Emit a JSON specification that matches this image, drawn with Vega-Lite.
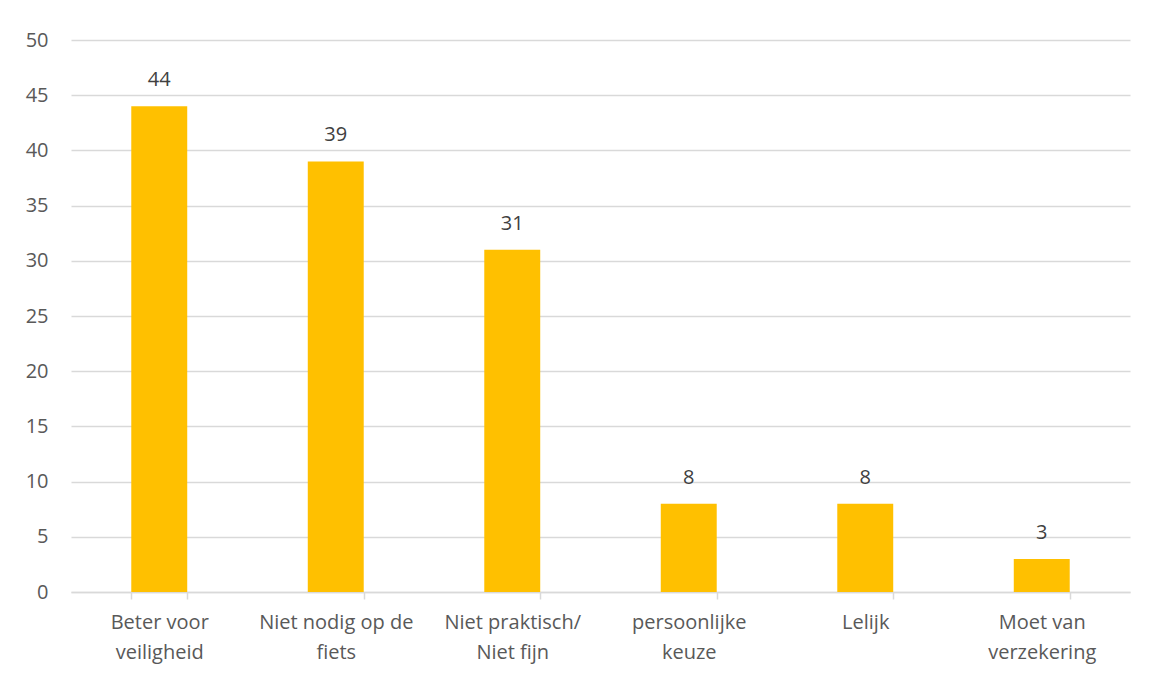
{
  "$schema": "https://vega.github.io/schema/vega-lite/v6.json",
  "autosize": {"type": "none"},
  "width": 1059,
  "height": 552,
  "padding": {"left": 71, "top": 40, "right": 22, "bottom": 83},
  "background": "white",
  "config": {
    "view": {"stroke": null},
    "font": "Open Sans",
    "axis": {"labelFont": "Open Sans", "labelColor": "#595959", "labelFontSize": 20, "titleColor": "#595959"}
  },
  "data": {
    "values": [
      {"reden": "Beter voor veiligheid", "aantal": 44},
      {"reden": "Niet nodig op de fiets", "aantal": 39},
      {"reden": "Niet praktisch/ Niet fijn", "aantal": 31},
      {"reden": "persoonlijke keuze", "aantal": 8},
      {"reden": "Lelijk", "aantal": 8},
      {"reden": "Moet van verzekering", "aantal": 3}
    ]
  },
  "encoding": {
    "x": {
      "field": "reden",
      "type": "nominal",
      "sort": null,
      "scale": {"paddingInner": 0.683, "paddingOuter": 0.3415},
      "axis": {
        "title": null,
        "labelAngle": 0,
        "domainColor": "#d9d9d9",
        "domainWidth": 1.5,
        "tickColor": "#d9d9d9",
        "tickWidth": 1.5,
        "tickSize": 7,
        "tickBand": "extent",
        "labelPadding": 13,
        "labelLineHeight": 30,
        "labelBaseline": "top",
        "labelExpr": "{'Beter voor veiligheid':['Beter voor','veiligheid'],'Niet nodig op de fiets':['Niet nodig op de','fiets'],'Niet praktisch/ Niet fijn':['Niet praktisch/','Niet fijn'],'persoonlijke keuze':['persoonlijke','keuze'],'Lelijk':['Lelijk'],'Moet van verzekering':['Moet van','verzekering']}[datum.value]"
      }
    },
    "y": {
      "field": "aantal",
      "type": "quantitative",
      "scale": {"domain": [0, 50], "nice": false},
      "axis": {
        "title": null,
        "values": [0, 5, 10, 15, 20, 25, 30, 35, 40, 45, 50],
        "domain": false,
        "ticks": false,
        "gridColor": "#d9d9d9",
        "gridWidth": 1.5,
        "labelPadding": 23
      }
    }
  },
  "layer": [
    {"mark": {"type": "bar", "color": "#FFC000"}},
    {
      "mark": {"type": "text", "baseline": "alphabetic", "dy": -20, "fontSize": 20, "color": "#404040", "font": "Open Sans"},
      "encoding": {"text": {"field": "aantal", "type": "quantitative"}}
    }
  ]
}
